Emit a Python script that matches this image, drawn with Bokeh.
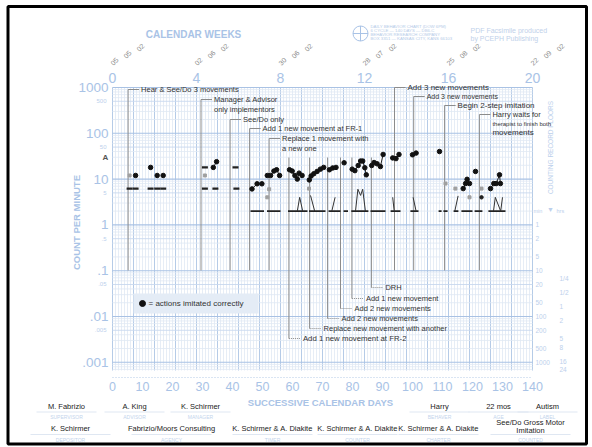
import numpy as np
from bokeh.plotting import figure
from bokeh.models import Range1d
from bokeh.embed import file_html
from bokeh.resources import INLINE
from bokeh.core.properties import value

FONT = value("Liberation Sans")

# ---------------- data ----------------
week_ticks = [0, 28, 56, 84, 112, 140]
week_labels = ["0", "4", "8", "12", "16", "20"]
week_dates = [("05", "05", "02"), ("02", "06", "02"), ("30", "06", "02"),
              ("28", "07", "02"), ("25", "08", "02"), ("22", "09", "02")]
day_ticks = list(range(0, 141, 10))
count_major = [1000, 100, 10, 1, 0.1, 0.01, 0.001]
count_major_labels = ["1000", "100", "10", "1", ".1", ".01", ".001"]
count_minor = [500, 50, 5, 0.5, 0.05, 0.005]
count_minor_labels = ["500", "50", "5", ".5", ".05", ".005"]
floor_minutes = [1, 2, 5, 10, 20, 50, 100, 200, 500, 1000]
floor_hours = [0.25, 0.5, 1, 2, 5, 8, 16, 24]
floor_hour_labels = ["1/4", "1/2", "1", "2", "5", "8", "16", "24"]
aim_value = 30

# corrects (dots), grouped into connected runs
corr_groups = [
    ([7.7], [12]), ([12.7], [18]), ([14.9], [12]), ([16.9], [12]),
    ([33.6, 34.7], [18, 24]),
    ([46.5, 48.2, 49.8], [6.1, 7.9, 7.9]),
    ([51.6, 52.7, 53.8, 54.7, 55.7], [12, 12, 15, 16, 12]),
    ([59.0, 59.9, 60.8, 61.6, 62.2, 63.2], [16, 15, 12, 10, 13.5, 12]),
    ([65.6, 66.2, 67.1, 68.2, 69.3, 70.4], [9.6, 11.7, 13.1, 14.7, 16.5, 18]),
    ([72.3, 73.4, 74.5], [16, 17.5, 18]),
    ([77.2], [22.7]),
    ([79.9, 80.8, 81.9, 82.7, 83.4, 84.1, 84.6], [16.5, 15.3, 19.8, 24.8, 24.8, 17.7, 12.4]),
    ([86.4, 87.2, 88.2, 89.3, 90.2], [19.8, 23, 21.6, 18.8, 34.5]),
    ([93.4, 94.5, 95.5], [29, 28, 34.5]),
    ([100.0, 101.2], [34, 37]),
    ([109.0], [40]),
    ([116.9, 117.7, 118.2, 119.0], [6.2, 8, 9.9, 8]),
    ([121.0], [14.7]),
    ([126.0, 127.1, 127.9, 129.0, 129.3], [6.2, 8, 8, 12.4, 8]),
]

# incorrect / error runs (lines)
err_groups = [
    ([61.6, 62.4, 63.4], [2, 4, 2]),
    ([66.0, 67.4], [4.4, 2]),
    ([73.1, 74.2], [2, 4]),
    ([81.0, 81.8, 82.7, 83.4, 84.3], [2, 6, 4.4, 6, 2]),
    ([93.4, 93.9], [4, 2]),
    ([100.2, 101.2], [4, 2]),
    ([114.1, 115.2], [2, 4.3]),
    ([127.0, 127.6, 129.4, 130.0], [2, 4, 2, 4]),
]
err_dot_day = [123.0]
err_dot_val = [4]

# record-floor dashes in early phases
dash_day = [5.7, 7.7, 12.7, 14.9, 16.9, 30.8, 34.3, 41.3, 30.8, 41.0]
dash_val = [6.2, 6.2, 6.2, 6.2, 6.2, 6.2, 6.2, 6.2, 18, 18]

# faint grey marks
grey_day = [5.7, 30.8, 52.2, 51.6, 65.5, 111.0, 114.3, 119.0, 123.0]
grey_val = [12, 12, 6, 4, 6.2, 8, 6.2, 4, 6.2]

# zero / floor runs
floor_level = 2
floor_start = [46.0, 51.5, 58.5, 65.5, 72.0, 77.0, 79.6, 86.0, 92.7, 99.3, 108.7, 110.3, 113.7, 116.3, 120.7, 125.3]
floor_end = [50.5, 56.0, 65.0, 71.0, 76.0, 78.5, 85.3, 91.0, 96.0, 102.0, 109.7, 111.7, 115.3, 120.0, 123.3, 131.0]

# phase change notes
upper_note_day = [5.2, 29.5, 39.2, 45.7, 52.2, 94.0, 100.4, 110.7, 122.3]
upper_note_lines = [["Hear & See/Do 3 movements"],
                    ["Manager & Advisor", "only implementors"],
                    ["See/Do only"],
                    ["Add 1 new movement at FR-1"],
                    ["Replace 1 movement with", "a new one"],
                    ["Add 3 new movements"],
                    ["Add 3 new movements"],
                    ["Begin 2-step imitation"],
                    ["Harry waits for", "therapist to finish both", "movements"]]
lower_note_day = [58.8, 65.7, 71.7, 76.0, 79.8, 86.3]
lower_note_text = ["Add 1 new movement at FR-2", "Replace new movement with another",
                   "Add 2 new movements", "Add 2 new movements", "Add 1 new movement", "DRH"]

info_row1 = [("M. Fabrizio", "SUPERVISOR"), ("A. King", "ADVISOR"), ("K. Schirmer", "MANAGER"),
             ("Harry", "BEHAVER"), ("22 mos", "AGE"), ("Autism", "LABEL")]
info_row2 = [("K. Schirmer", "DEPOSITOR"), ("Fabrizio/Moors Consulting", "AGENCY"),
             ("K. Schirmer & A. Diakite", "TIMER"), ("K. Schirmer & A. Diakite", "COUNTER"),
             ("K. Schirmer & A. Diakite", "CHARTER"), ("See/Do Gross Motor\nImitation", "COUNTED")]

# ---------------- layout helpers (pixel -> data) ----------------
X0, PX_PER_DAY = 112.0, 3.0
Y_TOP, PX_PER_DEC = 87.0, 45.8
LEFT, TOP = 0, 0
W, H = 592, 447


def dx(px):
    return (px - X0) / PX_PER_DAY


def dy(py):
    return 10 ** (3 - (py - Y_TOP) / PX_PER_DEC)


def pxd(n):
    return n / PX_PER_DAY


p = figure(width=W, height=H, x_range=Range1d(dx(LEFT), dx(LEFT + W)),
           y_range=Range1d(dy(TOP + H), dy(TOP)), y_axis_type="log",
           x_axis_location=None, y_axis_location=None, toolbar_location=None,
           output_backend="svg", min_border=0)
p.title.visible = False
p.xgrid.grid_line_color = None
p.ygrid.grid_line_color = None
p.outline_line_color = None
p.background_fill_color = "white"
p.border_fill_color = "white"


def add_text(xs, ys, texts, size, color, align="left", baseline="middle", bold=False, angle=0.0):
    p.text(x=list(xs), y=list(ys), text=list(texts), text_font=FONT,
           text_font_size=f"{size}px", text_color=color, text_align=align,
           text_baseline=baseline, text_font_style="bold" if bold else "normal",
           angle=angle)


BLUE_LBL = "#a9c3e6"
BLUE_SM = "#bcd0ec"
INK = "#333333"

# outer frame
p.quad(left=[dx(7.5)], right=[dx(586)], top=[dy(6)], bottom=[dy(443.5)],
       fill_color=None, line_color="black", line_width=3)

# ---------------- grid ----------------
GRID_BOTTOM = dy(370)
minor_d = [d for d in range(0, 141) if d % 7]
week_d = list(range(0, 141, 7))
p.segment(x0=minor_d, x1=minor_d, y0=[GRID_BOTTOM] * len(minor_d), y1=[1000] * len(minor_d),
          line_color="#dfe8f4", line_width=0.8)
p.segment(x0=week_d, x1=week_d, y0=[GRID_BOTTOM] * len(week_d), y1=[1000] * len(week_d),
          line_color="#b5cbe7", line_width=1)
levels = [m * 10.0 ** k for k in range(-4, 3) for m in range(1, 10)] + [1000.0]
levels = [lv for lv in levels if lv >= GRID_BOTTOM * 0.999]
dec = [lv for lv in levels if abs(np.log10(lv) - round(np.log10(lv))) < 1e-9]
fives = [lv for lv in levels if abs(np.log10(lv / 5) - round(np.log10(lv / 5))) < 1e-9]
others = [lv for lv in levels if lv not in dec and lv not in fives]
for lv_set, col, lw in ((others, "#dfe8f4", 0.8), (fives, "#c8d8ee", 0.9), (dec, "#a9c2e4", 1.1)):
    p.segment(x0=[0] * len(lv_set), x1=[140] * len(lv_set), y0=lv_set, y1=lv_set,
              line_color=col, line_width=lw)
p.line(x=[0, 140], y=[dy(377), dy(377)], line_color="#b5cbe7", line_width=1, line_dash="1 2")

# ---------------- axis texts ----------------
add_text(week_ticks, [dy(77)] * 6, week_labels, 14, BLUE_LBL, align="center")
for wd, parts in zip(week_ticks, week_dates):
    offs = [2, 15, 28]
    ys = [61, 54, 47]
    add_text([wd + pxd(o) for o in offs], [dy(v) for v in ys], list(parts), 7, "#8c8c8c",
             align="center", angle=np.pi / 4)
add_text([dx(193)], [dy(34)], ["CALENDAR WEEKS"], 10, BLUE_LBL, align="center", bold=True)
add_text(day_ticks, [dy(386)] * len(day_ticks), [str(d) for d in day_ticks], 12.5, BLUE_LBL, align="center")
add_text([dx(320)], [dy(402)], ["SUCCESSIVE CALENDAR DAYS"], 9.5, BLUE_LBL, align="center", bold=True)
add_text([dx(108)] * len(count_major), count_major, count_major_labels, 13.5, BLUE_LBL, align="right")
add_text([dx(106)] * len(count_minor), count_minor, count_minor_labels, 6, BLUE_SM, align="right")
add_text([dx(76)], [dy(222)], ["COUNT PER MINUTE"], 9.5, BLUE_LBL, align="center", bold=True, angle=np.pi / 2)
add_text([dx(105)], [aim_value], ["A"], 8, "#555555", align="center", bold=True)

# right side: counting record floors
add_text([dx(535)] * len(floor_minutes), [1.0 / m for m in floor_minutes],
         [str(m) for m in floor_minutes], 6.5, BLUE_SM)
add_text([dx(559)] * len(floor_hours), [1.0 / (h * 60) for h in floor_hours],
         floor_hour_labels, 6.5, BLUE_SM)
add_text([dx(533)], [dy(210)], ["min"], 5.5, BLUE_SM)
add_text([dx(550)], [dy(209)], ["\u25bc"], 7, BLUE_SM, align="center")
add_text([dx(556)], [dy(210)], ["hrs"], 5.5, BLUE_SM)
add_text([dx(550)], [dy(147)], ["COUNTING RECORD FLOORS"], 6.5, BLUE_SM, align="center", angle=np.pi / 2)

# header logo and facsimile note
p.scatter(x=[dx(360)], y=[dy(33)], marker="circle_cross", size=15, fill_color=None,
          line_color="#a9c3e6", line_width=1)
add_text([dx(370)] * 4, [dy(v) for v in (26, 30, 34, 38)],
         ["DAILY BEHAVIOR CHART (DOW 6PM)", "6 CYCLE \u2014 140 DAYS \u2014 DB6-C",
          "BEHAVIOR RESEARCH COMPANY", "BOX 3351 \u2014 KANSAS CITY, KANS 66103"], 4.3, "#b5cbe8")
add_text([dx(470)] * 2, [dy(30), dy(38)], ["PDF Facsimile produced", "by PCEPH Publishing"], 7, "#bfd1ea")

# ---------------- phase change lines & notes ----------------
LINE_C = "#8c8c8c"
UPPER_Y = [[89], [99, 109], [119], [128], [138, 148], [87], [96], [105], [114, 123, 132]]
UPPER_SIZE = [[7.5], [7.5, 7.5], [7.5], [7.5], [7.5, 7.5], [8], [7], [8], [7.5, 6, 8]]
for d, lines, ys, sz in zip(upper_note_day, upper_note_lines, UPPER_Y, UPPER_SIZE):
    p.line(x=[d, d], y=[dy(ys[0]), dy(270)], line_color=LINE_C, line_width=1)
    p.line(x=[d, d + pxd(11)], y=[dy(ys[0]), dy(ys[0])], line_color=LINE_C, line_width=1)
    for t, yy, s in zip(lines, ys, sz):
        add_text([d + pxd(13)], [dy(yy)], [t], s, INK)

LOWER_Y = [338, 328, 318, 308, 298, 287]
for d, t, yy in zip(lower_note_day, lower_note_text, LOWER_Y):
    p.line(x=[d, d], y=[dy(157), dy(yy)], line_color=LINE_C, line_width=1)
    p.line(x=[d, d + pxd(12)], y=[dy(yy), dy(yy)], line_color=LINE_C, line_width=1, line_dash="1 1")
    add_text([d + pxd(14)], [dy(yy)], [t], 7.8 if t.endswith("FR-2") else 7.5, INK)

# ---------------- data marks ----------------
p.segment(x0=floor_start, x1=floor_end, y0=[floor_level] * len(floor_start),
          y1=[floor_level] * len(floor_start), line_color="#222222", line_width=1.6)
for xs, ys in err_groups:
    p.line(x=xs, y=ys, line_color="#333333", line_width=1)
p.scatter(x=err_dot_day, y=err_dot_val, size=3.5, color="#222222")
p.scatter(x=dash_day, y=dash_val, marker="dash", size=6, line_color="#222222", line_width=2.2)
p.scatter(x=grey_day, y=grey_val, marker="square", size=3, color="#a0a0a0")
for xs, ys in corr_groups:
    if len(xs) > 1:
        p.line(x=xs, y=ys, line_color="#222222", line_width=1)
all_cd = [x for g in corr_groups for x in g[0]]
all_cv = [v for g in corr_groups for v in g[1]]
p.scatter(x=all_cd, y=all_cv, size=4.5, color="#111111")

# legend box
p.quad(left=[dx(133)], right=[dx(258)], top=[dy(293)], bottom=[dy(313)],
       fill_color="#e4ecf6", line_color=None)
p.scatter(x=[dx(142)], y=[dy(303)], size=6, color="#111111")
add_text([dx(148)], [dy(303)], ["= actions imitated correctly"], 8, INK)

# ---------------- bottom info ----------------
row1_x = [66, 134, 200, 439, 498, 547]
row2_x = [70, 171, 272, 357, 438, 530]
for (name, lab), cx in zip(info_row1, row1_x):
    add_text([dx(cx)], [dy(406)], [name], 7.5, "#222222", align="center")
    add_text([dx(cx)], [dy(416)], [lab], 5, "#c3d4ec", align="center")
    p.line(x=[dx(cx - 30), dx(cx + 30)], y=[dy(411.5), dy(411.5)], line_color="#dfe7f2", line_width=1)
for (name, lab), cx in zip(info_row2, row2_x):
    if "\n" in name:
        a, b = name.split("\n")
        add_text([dx(cx)], [dy(422)], [a], 7.5, "#222222", align="center")
        add_text([dx(cx)], [dy(430)], [b], 7.5, "#222222", align="center")
    else:
        add_text([dx(cx)], [dy(428)], [name], 7.5, "#222222", align="center")
    add_text([dx(cx)], [dy(439)], [lab], 5, "#c3d4ec", align="center")
    p.line(x=[dx(cx - 40), dx(cx + 40)], y=[dy(434), dy(434)], line_color="#dfe7f2", line_width=1)

open("out.html", "w").write(file_html(p, INLINE))
